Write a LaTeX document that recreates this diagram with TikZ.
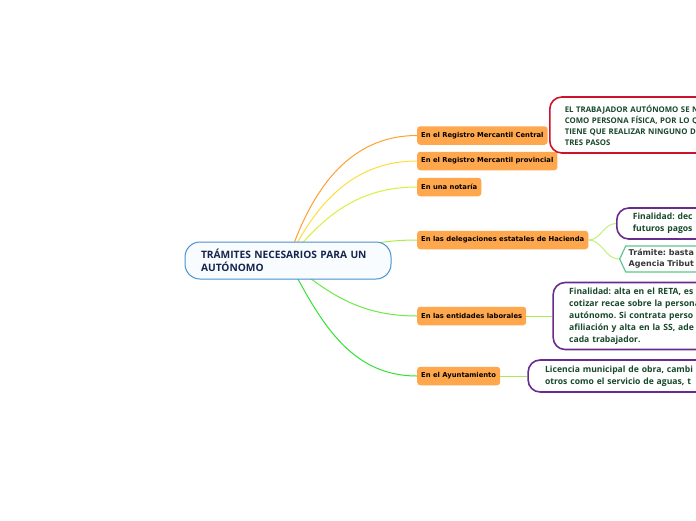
\documentclass[tikz,border=0pt]{standalone}
\usepackage{fontspec}
\setmainfont{Open Sans}
\newfontfamily\verdfont{DejaVu Sans}
\usetikzlibrary{positioning, backgrounds, shapes.symbols}
\definecolor{RootBlue}{RGB}{74, 144, 210}
\definecolor{RootFill}{RGB}{248, 252, 255}
\definecolor{RootText}{RGB}{22, 36, 78}
\definecolor{CatOrange}{RGB}{255, 167, 77}
\definecolor{NotePurple}{RGB}{104, 44, 142}
\definecolor{NoteRed}{RGB}{204, 18, 44}
\definecolor{NoteGreen}{RGB}{94, 198, 140}
\definecolor{NoteText}{RGB}{24, 72, 44}
\definecolor{LinkOrange}{RGB}{255, 160, 50}
\definecolor{LinkYellow}{RGB}{255, 222, 60}
\definecolor{LinkLime}{RGB}{218, 240, 60}
\definecolor{LinkLight}{RGB}{170, 236, 80}
\definecolor{LinkMid}{RGB}{110, 232, 70}
\definecolor{LinkGreen}{RGB}{50, 226, 50}
\definecolor{LinkSub}{RGB}{196, 240, 120}
\frenchspacing

\begin{document}
\begin{tikzpicture}[x=1pt, y=-1pt,
    rootbox/.style={draw=RootBlue, line width=1pt, fill=RootFill, rounded corners=15pt, minimum width=206pt, minimum height=37pt, text width=174pt, align=left, text=RootText, font=\bfseries\fontsize{10.2}{13}\selectfont},
    catbox/.style={fill=CatOrange, rounded corners=3pt, inner xsep=4pt, minimum height=18.5pt, anchor=west, font=\verdfont\bfseries\fontsize{6.8}{8}\selectfont},
    notebox/.style={draw=NotePurple, line width=1.6pt, rounded corners=12pt, fill=white, text=NoteText, align=left, inner xsep=16pt, anchor=west, font=\bfseries\fontsize{8.6}{12}\selectfont},
    tramitebox/.style={signal, signal to=west, signal pointer angle=130, draw=NoteGreen, line width=1.2pt, fill=white, text=black!78, align=left, inner xsep=3pt, minimum height=26pt, anchor=west, font=\verdfont\bfseries\fontsize{8}{11}\selectfont},
    link/.style={line width=1pt}]
    \useasboundingbox (0,0) rectangle (696,520);
    \clip (0,0) rectangle (696,520);

    \node[rootbox] (root) at (288,260.5) {TRÁMITES NECESARIOS PARA UN\\AUTÓNOMO};

    \node[catbox] (central) at (417,135.5) {En el Registro Mercantil Central};
    \node[catbox] (provincial) at (417,161) {En el Registro Mercantil provincial};
    \node[catbox] (notaria) at (417,187) {En una notaría};
    \node[catbox] (hacienda) at (417,240) {En las delegaciones estatales de Hacienda};
    \node[catbox] (laborales) at (417,316) {En las entidades laborales};
    \node[catbox] (ayto) at (417,376) {En el Ayuntamiento};

    \node[notebox, draw=NoteRed, text width=170pt, minimum height=56pt, inner xsep=15pt, font=\bfseries\fontsize{7.8}{11}\selectfont] (persona) at (549,125) {EL TRABAJADOR AUTÓNOMO SE N\\COMO PERSONA FÍSICA, POR LO Q\\TIENE QUE REALIZAR NINGUNO DE\\TRES PASOS};
    \node[notebox, text width=100pt, minimum height=31pt] (finhac) at (616,223.5) {Finalidad: dec\\futuros pagos};
    \node[tramitebox, text width=110pt] (tramite) at (619,259) {Trámite: basta\\Agencia Tribut};
    \node[notebox, right=26pt of laborales, text width=180pt, minimum height=67pt] (reta) {Finalidad: alta en el RETA, es\\cotizar recae sobre la persona\\autónomo. Si contrata perso\\afiliación y alta en la SS, ade\\cada trabajador.};
    \node[notebox, right=27pt of ayto, text width=200pt, minimum height=32pt, inner xsep=17pt] (licencia) {Licencia municipal de obra, cambi\\otros como el servicio de aguas, t};

    \begin{scope}[on background layer]
    \fill[white] (0,0) rectangle (696,520);
    \draw[link, LinkOrange] (root.center) to[out=72, in=180] (central.west);
    \draw[link, LinkYellow] (root.center) to[out=64, in=180] (provincial.west);
    \draw[link, LinkLime] (root.center) to[out=52, in=180] (notaria.west);
    \draw[link, LinkLight] (root.center) to[out=8, in=180] (hacienda.west);
    \draw[link, LinkMid] (root.center) to[out=-40, in=180] (laborales.west);
    \draw[link, LinkGreen] (root.center) to[out=-62, in=180] (ayto.west);
    \draw[link, LinkSub] (hacienda.east) to[out=0, in=180] (finhac.west);
    \draw[link, LinkSub] (hacienda.east) to[out=0, in=180] (tramite.west);
    \draw[link, LinkLight] (laborales.east) -- (reta.west);
    \draw[link, LinkLight] (ayto.east) -- (licencia.west);
    \end{scope}
\end{tikzpicture}
\end{document}
